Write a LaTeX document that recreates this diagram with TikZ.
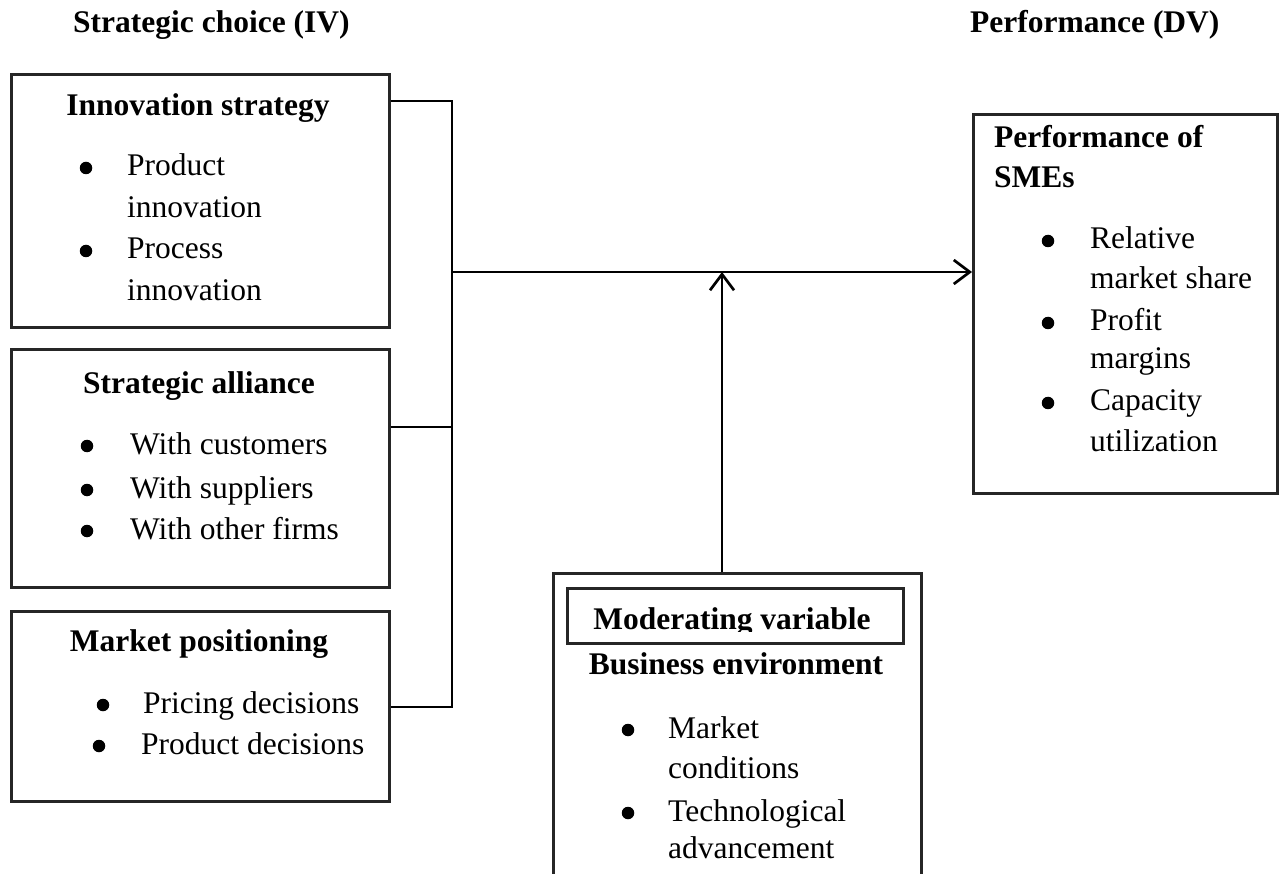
\documentclass[tikz,border=0pt]{standalone}
\usepackage{fontspec}
\setmainfont{Liberation Serif}
\usetikzlibrary{arrows.meta}
\begin{document}
\begin{tikzpicture}[x=1pt,y=-1pt,
  box/.style={draw=black!85, line width=2.6pt, inner sep=0pt, anchor=north west},
  txt/.style={font=\fontsize{31.5}{40}\selectfont, inner sep=0pt, anchor=base west},
  hd/.style={font=\fontsize{31.5}{40}\selectfont\bfseries, inner sep=0pt, anchor=base},
  hdl/.style={font=\fontsize{31.5}{40}\selectfont\bfseries, inner sep=0pt, anchor=base west},
  dot/.style={circle, fill=black, inner sep=0pt, minimum size=12.5pt},
  link/.style={line width=1.3pt},
  arr/.style={line width=2.7pt, -{Straight Barb[length=16pt,width=24pt]}}
]
\clip (0,0) rectangle (1280,874);
% headings
\node[hdl] (hiv) at (73,33) {Strategic choice (IV)};
\node[hdl] (hdv) at (970,33) {Performance (DV)};
% box 1
\node[box, minimum width=378pt, minimum height=253pt] (b1) at (10,73) {};
\node[hd] (b1t) at (198,116) {Innovation strategy};
\node[dot] (b1b1) at (86,168) {};
\node[txt] (b1l1) at (127,176) {Product};
\node[txt] (b1l2) at (127,218) {innovation};
\node[dot] (b1b2) at (86,251) {};
\node[txt] (b1l3) at (127,259) {Process};
\node[txt] (b1l4) at (127,301) {innovation};
% box 2
\node[box, minimum width=378pt, minimum height=238pt] (b2) at (10,348) {};
\node[hd] (b2t) at (199,394) {Strategic alliance};
\node[dot] (b2b1) at (87,446) {};
\node[txt] (b2l1) at (130,454) {With customers};
\node[dot] (b2b2) at (87,490) {};
\node[txt] (b2l2) at (130,498) {With suppliers};
\node[dot] (b2b3) at (87,531) {};
\node[txt] (b2l3) at (130,539) {With other firms};
% box 3
\node[box, minimum width=378pt, minimum height=190pt] (b3) at (10,610) {};
\node[hd] (b3t) at (199,651) {Market positioning};
\node[dot] (b3b1) at (103,705) {};
\node[txt] (b3l1) at (143,713) {Pricing decisions};
\node[dot] (b3b2) at (99,746) {};
\node[txt] (b3l2) at (141,754) {Product decisions};
% box 4
\node[box, minimum width=304pt, minimum height=379pt] (b4) at (972,113) {};
\node[hdl] (b4t1) at (994,148) {Performance of};
\node[hdl] (b4t2) at (994,188) {SMEs};
\node[dot] (b4b1) at (1048,241) {};
\node[txt] (b4l1) at (1090,249) {Relative};
\node[txt] (b4l2) at (1090,289) {market share};
\node[dot] (b4b2) at (1048,323) {};
\node[txt] (b4l3) at (1090,331) {Profit};
\node[txt] (b4l4) at (1090,369) {margins};
\node[dot] (b4b3) at (1048,403) {};
\node[txt] (b4l5) at (1090,411) {Capacity};
\node[txt] (b4l6) at (1090,451) {utilization};
% moderating box
\node[box, minimum width=368pt, minimum height=330pt] (m) at (552,572) {};
\node[box, minimum width=336pt, minimum height=55pt] (mi) at (566,587) {};
\begin{scope}
\clip (568,589) rectangle (900,631);
\node[hd] (mit) at (732,629) {Moderating variable};
\end{scope}
\node[hd] (mt) at (736,674) {Business environment};
\node[dot] (mb1) at (628,730) {};
\node[txt] (ml1) at (668,738) {Market};
\node[txt] (ml2) at (668,778) {conditions};
\node[dot] (mb2) at (628,813) {};
\node[txt] (ml3) at (668,821) {Technological};
\node[txt] (ml4) at (668,858) {advancement};
% connectors
\coordinate (jtop) at (452,101);
\coordinate (jmid) at (452,427);
\coordinate (jbot) at (452,707);
\coordinate (jmain) at (452,272);
\coordinate (mtop) at (722,572);
\draw[link] (b1.east |- jtop) -- (jtop) -- (jbot) -- (b3.east |- jbot);
\draw[link] (b2.east |- jmid) -- (jmid);
\draw[arr] (jmain) -- (jmain -| b4.west);
\draw[arr] (mtop) -- (mtop |- jmain);
\end{tikzpicture}
\end{document}
